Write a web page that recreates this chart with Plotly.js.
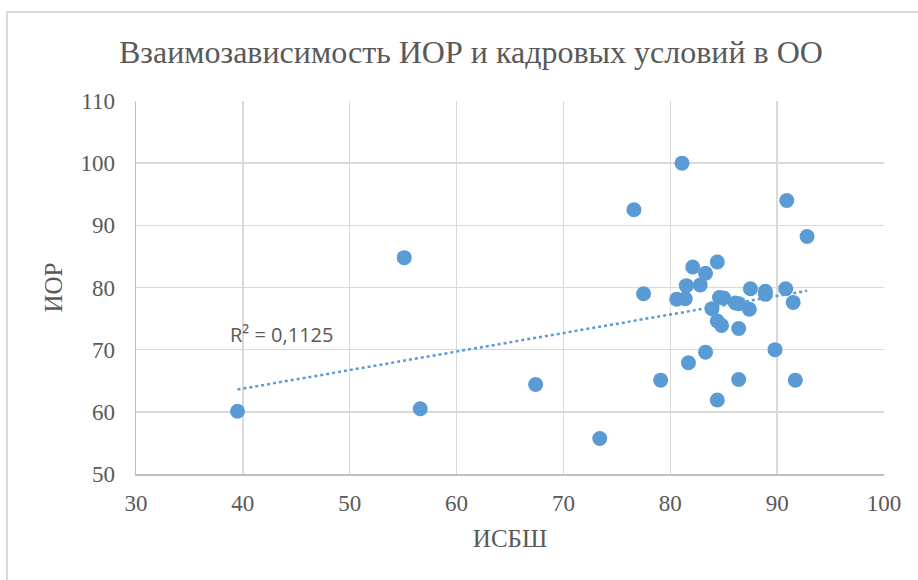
<!DOCTYPE html>
<html>
<head>
<meta charset="utf-8">
<script src="https://cdn.plot.ly/plotly-3.0.1.min.js"></script>
<style>
html,body{margin:0;padding:0;background:#fff;}
#chart{width:918px;height:580px;}
</style>
</head>
<body>
<div id="chart"></div>
<script>
const chartTitle = "Взаимозависимость ИОР и кадровых условий в ОО";
const xTitle = "ИСБШ";
const yTitle = "ИОР";
const r2Label = "R² = 0,1125";

const isbsh = [39.5, 55.1, 56.6, 67.4, 73.4, 76.6, 77.5, 79.1, 80.6, 81.1,
  81.4, 81.5, 81.7, 82.1, 82.8, 83.3, 83.3, 83.9, 84.4, 84.4,
  84.4, 84.6, 84.8, 85.0, 86.1, 86.4, 86.4, 86.4, 87.4, 87.5,
  88.9, 88.9, 89.8, 90.8, 90.9, 91.5, 91.7, 92.8];
const ior = [60.1, 84.8, 60.5, 64.4, 55.7, 92.5, 79.0, 65.1, 78.1, 100.0,
  78.2, 80.3, 67.9, 83.3, 80.4, 82.3, 69.6, 76.6, 84.1, 74.6,
  61.9, 78.4, 73.9, 78.3, 77.5, 77.4, 73.4, 65.2, 76.5, 79.8,
  79.4, 78.9, 70.0, 79.8, 94.0, 77.6, 65.1, 88.2];

const xTicks = [30, 40, 50, 60, 70, 80, 90, 100];
const yTicks = [50, 60, 70, 80, 90, 100, 110];

// least squares linear trend from the data
const n = isbsh.length;
const mx = isbsh.reduce((a, b) => a + b, 0) / n;
const my = ior.reduce((a, b) => a + b, 0) / n;
let sxy = 0, sxx = 0;
for (let i = 0; i < n; i++) { sxy += (isbsh[i] - mx) * (ior[i] - my); sxx += (isbsh[i] - mx) ** 2; }
const slope = sxy / sxx, intercept = my - slope * mx;
const xMin = Math.min(...isbsh), xMax = Math.max(...isbsh);
const trendX = [xMin, xMax];
const trendY = trendX.map(v => intercept + slope * v);

const blue = "#5B9BD5";
const grey = "#595959";
const serif = "Liberation Serif";

const traces = [
  {x: trendX, y: trendY, type: "scatter", mode: "lines",
   line: {color: blue, width: 2.5, dash: "dot"}, hoverinfo: "skip", showlegend: false},
  {x: isbsh, y: ior, type: "scatter", mode: "markers",
   marker: {color: blue, size: 15, line: {width: 0}}, showlegend: false}
];

const layout = {
  width: 918, height: 580,
  margin: {l: 136, r: 34, t: 101, b: 106},
  paper_bgcolor: "#fff", plot_bgcolor: "#fff",
  font: {family: serif, color: grey, size: 20},
  title: {text: chartTitle, x: 0.513, xanchor: "center", y: 0.91, yanchor: "middle",
          font: {family: serif, size: 32, color: grey}},
  xaxis: {range: [30, 100], tickmode: "array", tickvals: xTicks, ticktext: xTicks.map(String),
          showgrid: true, gridcolor: "#d9d9d9", gridwidth: 1.5,
          showline: true, linecolor: "#bfbfbf", linewidth: 1.5, zeroline: false,
          ticks: "outside", ticklen: 8, tickcolor: "rgba(0,0,0,0)",
          tickfont: {family: serif, size: 23, color: grey},
          title: {text: xTitle, standoff: 14, font: {family: serif, size: 25, color: grey}}},
  yaxis: {range: [50, 110], tickmode: "array", tickvals: yTicks, ticktext: yTicks.map(String),
          showgrid: true, gridcolor: "#d9d9d9", gridwidth: 1.5,
          showline: true, linecolor: "#bfbfbf", linewidth: 1.5, zeroline: false,
          ticks: "outside", ticklen: 15, tickcolor: "rgba(0,0,0,0)",
          tickfont: {family: serif, size: 23, color: grey},
          title: {text: yTitle, standoff: 10, font: {family: serif, size: 25, color: grey}}},
  annotations: [
    {text: r2Label, xref: "x", yref: "y", x: 38.6, y: 72.5, xanchor: "left", yanchor: "middle",
     showarrow: false, font: {family: "Open Sans", size: 20, color: grey}}
  ],
  shapes: [
    {type: "rect", xref: "paper", yref: "paper",
     x0: (7 - 136) / 748, x1: 1.2, y0: -0.5, y1: (474 - 12) / 373,
     line: {color: "#d9d9d9", width: 2}, fillcolor: "rgba(0,0,0,0)", layer: "below"}
  ]
};

Plotly.newPlot("chart", traces, layout, {displayModeBar: false, staticPlot: true});
</script>
</body>
</html>
